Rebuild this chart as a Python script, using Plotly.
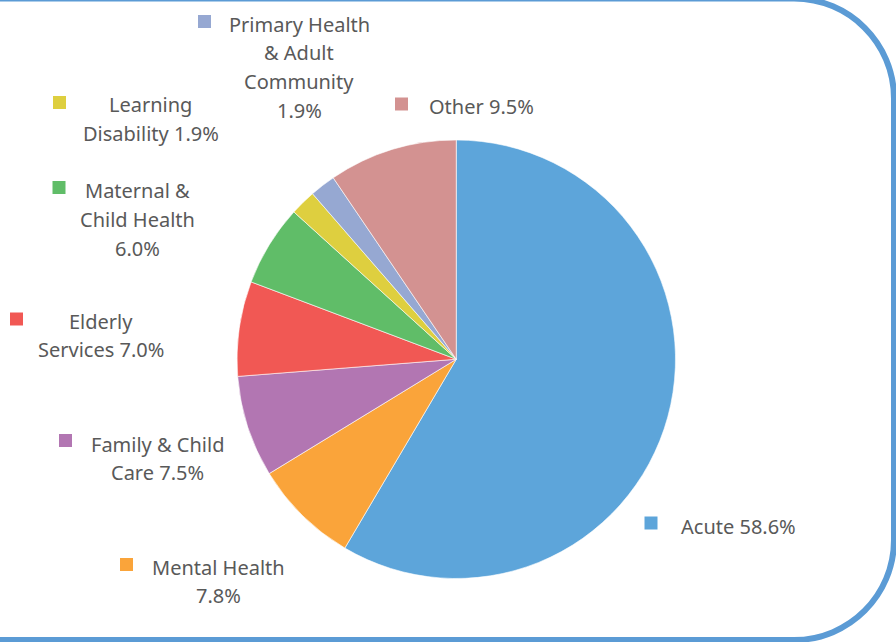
import plotly.graph_objects as go

# Share of spend by service area (percent), clockwise from 12 o'clock
services = ["Acute", "Mental Health", "Family & Child Care", "Elderly Services",
            "Maternal & Child Health", "Learning Disability",
            "Primary Health & Adult Community", "Other"]
shares = [58.6, 7.8, 7.5, 7.0, 6.0, 1.9, 1.9, 9.5]
colors = ["#5DA5DA", "#FAA43A", "#B276B2", "#F15854",
          "#60BD68", "#DECF3F", "#96A8D2", "#D39291"]

# Label text, split into lines; "{v}" is replaced by the share
label_lines = [
    ["Acute {v}"],
    ["Mental Health", "{v}"],
    ["Family & Child", "Care {v}"],
    ["Elderly", "Services {v}"],
    ["Maternal &", "Child Health", "{v}"],
    ["Learning", "Disability {v}"],
    ["Primary Health", "& Adult", "Community", "{v}"],
    ["Other {v}"],
]

W, H = 896, 642
# label placement in pixels: text centre x, first line y, legend key centre
label_pos = [
    (738, 526, 651, 523),
    (218.5, 567, 126.5, 564.5),
    (157, 444, 65.5, 440.5),
    (101, 321, 16.5, 319),
    (137.5, 190.5, 59, 187.5),
    (150.5, 105, 59.5, 102.5),
    (299, 24, 204.5, 21.5),
    (481.5, 106, 401.5, 104),
]
LINE_STEP = 28.8
KEY = 13
TEXT_DY = 0


def px(x):
    return x / W


def py(y):
    return 1 - y / H


fig = go.Figure(go.Pie(
    labels=services,
    values=shares,
    marker=dict(colors=colors, line=dict(color="white", width=0.6)),
    sort=False,
    direction="clockwise",
    rotation=0,
    textinfo="none",
    hoverinfo="label+value",
    domain=dict(x=[px(237), px(675.5)], y=[py(578.5), py(140)]),
))

annotations = []
shapes = []
for lines, share, color, (cx, y0, kx, ky) in zip(label_lines, shares, colors, label_pos):
    v = f"{share:.1f}%"
    for i, line in enumerate(lines):
        annotations.append(dict(
            x=px(cx), y=py(y0 + i * LINE_STEP + TEXT_DY),
            xref="paper", yref="paper", xanchor="center", yanchor="middle",
            text=line.replace("{v}", v), showarrow=False,
            font=dict(family="Noto Sans", size=20, color="#595959"),
        ))
    shapes.append(dict(
        type="rect", xref="paper", yref="paper",
        x0=px(kx - KEY / 2), x1=px(kx + KEY / 2),
        y0=py(ky + KEY / 2), y1=py(ky - KEY / 2),
        fillcolor=color, line=dict(width=0),
    ))

# rounded frame around the chart (left side runs off the page)
k = 0.5523
r = 100
top, right, bottom = -1.5, 894, 640
pts = [
    ("M", [(-10, top)]),
    ("L", [(right - r, top)]),
    ("C", [(right - r + k * r, top), (right, top + r - k * r), (right, top + r)]),
    ("L", [(right, bottom - r)]),
    ("C", [(right, bottom - r + k * r), (right - r + k * r, bottom), (right - r, bottom)]),
    ("L", [(-10, bottom)]),
]
path = " ".join(cmd + " " + " ".join(f"{px(x):.5f},{py(y):.5f}" for x, y in p) for cmd, p in pts)
shapes.append(dict(type="path", xref="paper", yref="paper", path=path,
                   line=dict(color="#5B9BD5", width=6)))

fig.update_layout(
    width=W, height=H,
    margin=dict(l=0, r=0, t=0, b=0),
    paper_bgcolor="white", plot_bgcolor="white",
    showlegend=False,
    annotations=annotations,
    shapes=shapes,
)

fig.write_html("out.html")
